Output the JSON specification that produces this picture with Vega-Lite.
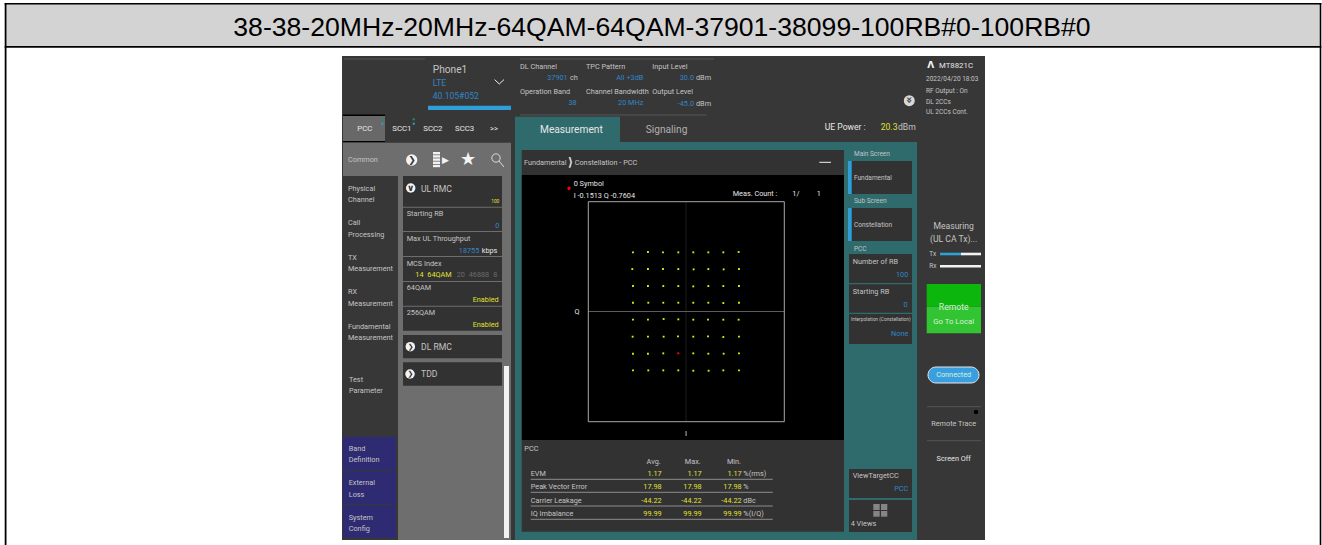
{
"$schema":"https://vega.github.io/schema/vega-lite/v6.json",
"width":1322,"height":545,"padding":0,"autosize":{"type":"none"},"background":"white",
"view":{"stroke":null},
"config":{"view":{"stroke":null}},
"datasets":{
"rects":[
{"part":"line","x":4.7,"y":3,"x2":1321.3,"y2":4.7},
{"part":"bar","x":6.5,"y":4.7,"x2":1319.7,"y2":46},
{"part":"line","x":4.7,"y":46,"x2":1321.3,"y2":47.7},
{"part":"line","x":4.7,"y":3,"x2":6.5,"y2":545},
{"part":"line","x":1319.7,"y":3,"x2":1321.3,"y2":545},
{"part":"panel","x":342,"y":56,"x2":985,"y2":540},
{"part":"accent","x":428,"y":105.7,"x2":511,"y2":110},
{"part":"line","x":343,"y":114.5,"x2":385,"y2":116},
{"part":"tab","x":343,"y":116,"x2":385,"y2":141},
{"part":"line","x":343,"y":141,"x2":385,"y2":142},
{"part":"statusgreen","x":381.3,"y":118,"x2":383.3,"y2":120},
{"part":"accent","x":381.3,"y":122.7,"x2":383.3,"y2":124.7},
{"part":"statusgreen","x":412.7,"y":118.3,"x2":414.7,"y2":120.3},
{"part":"accent","x":412.7,"y":122.7,"x2":414.7,"y2":124.7},
{"part":"gray","x":343,"y":142.7,"x2":511,"y2":176},
{"part":"gray","x":398,"y":176,"x2":511,"y2":540},
{"part":"card","x":403,"y":176,"x2":502,"y2":206.7},
{"part":"card","x":403,"y":207.7,"x2":502,"y2":231},
{"part":"card","x":403,"y":232,"x2":502,"y2":256},
{"part":"card","x":403,"y":257,"x2":502,"y2":281},
{"part":"card","x":403,"y":282,"x2":502,"y2":305.7},
{"part":"card","x":403,"y":306.7,"x2":502,"y2":330.7},
{"part":"card","x":403,"y":335,"x2":502,"y2":358.3},
{"part":"card","x":403,"y":362.3,"x2":502,"y2":385.7},
{"part":"white","x":504,"y":366,"x2":509,"y2":538},
{"part":"navy","x":342.7,"y":436.7,"x2":396,"y2":470},
{"part":"navy","x":342.7,"y":471,"x2":396,"y2":504},
{"part":"navy","x":342.7,"y":505,"x2":396,"y2":538},
{"part":"teal","x":515,"y":116.7,"x2":620,"y2":142},
{"part":"teal","x":515,"y":142,"x2":917,"y2":540},
{"part":"card","x":521.7,"y":150,"x2":844,"y2":175},
{"part":"black","x":521.7,"y":175,"x2":844,"y2":440},
{"part":"card","x":521.7,"y":440,"x2":844,"y2":531.7},
{"part":"card","x":848,"y":161,"x2":912,"y2":194},
{"part":"accent","x":848,"y":161,"x2":851.7,"y2":194},
{"part":"card","x":848,"y":208,"x2":912,"y2":241},
{"part":"accent","x":848,"y":208,"x2":851.7,"y2":241},
{"part":"card","x":849,"y":254,"x2":912,"y2":283},
{"part":"card","x":849,"y":284.3,"x2":912,"y2":312.7},
{"part":"card","x":849,"y":314,"x2":912,"y2":344},
{"part":"card","x":849,"y":469,"x2":912,"y2":498},
{"part":"card","x":849,"y":500,"x2":912,"y2":532},
{"part":"icon","x":873.3,"y":504,"x2":879.7,"y2":510},
{"part":"icon","x":881,"y":504,"x2":887.3,"y2":510},
{"part":"icon","x":873.3,"y":511,"x2":879.7,"y2":516.7},
{"part":"icon","x":881,"y":511,"x2":887.3,"y2":516.7},
{"part":"white","x":433,"y":152,"x2":440,"y2":154.4},
{"part":"white","x":433,"y":155.2,"x2":440,"y2":157.6},
{"part":"white","x":433,"y":158.4,"x2":440,"y2":160.8},
{"part":"white","x":433,"y":161.6,"x2":440,"y2":164},
{"part":"white","x":433,"y":164.8,"x2":440,"y2":167.2},
{"part":"green1","x":926.7,"y":284,"x2":981,"y2":306.7},
{"part":"green2","x":926.7,"y":306.7,"x2":981,"y2":333.3},
{"part":"accent","x":940,"y":252.7,"x2":961,"y2":255.3},
{"part":"white","x":961,"y":252.7,"x2":981,"y2":255.3},
{"part":"white","x":940,"y":265,"x2":981,"y2":267.6}
],
"outlines":[
{"x":588.3,"y":201.7,"x2":784.3,"y2":421.7}
],
"pills":[
{"x":928,"y":367,"x2":979,"y2":383}
],
"rules":[
{"part":"faint","x":344,"y":59,"x2":425,"y2":59},
{"part":"faint","x":520,"y":59,"x2":714,"y2":59},
{"part":"faint","x":520,"y":115,"x2":707,"y2":115},
{"part":"table","x":530.7,"y":479.3,"x2":772.7,"y2":479.3},
{"part":"table","x":530.7,"y":492.3,"x2":772.7,"y2":492.3},
{"part":"table","x":530.7,"y":506,"x2":772.7,"y2":506},
{"part":"table","x":530.7,"y":519.3,"x2":772.7,"y2":519.3},
{"part":"bright","x":819.3,"y":162.3,"x2":831,"y2":162.3},
{"part":"faint","x":927,"y":406.7,"x2":981,"y2":406.7},
{"part":"faint","x":927,"y":440.7,"x2":981,"y2":440.7},
{"part":"lens","x":499,"y":161,"x2":504,"y2":167},
{"part":"bright","x":494.6,"y":79.6,"x2":499.3,"y2":84},
{"part":"bright","x":499.3,"y":84,"x2":504,"y2":79.6}
],
"crossV":[{"x":686,"y":201.7,"x2":686,"y2":421.7}],
"crossH":[{"x":588.3,"y":311.5,"x2":784.3,"y2":311.5}],
"dots":[
{"part":"button","x":411.7,"y":160},
{"part":"cardbutton","x":410.7,"y":188},
{"part":"cardbutton","x":410.3,"y":346.7},
{"part":"cardbutton","x":410,"y":374},
{"part":"more","x":909.3,"y":100.7},
{"part":"cursor","x":569,"y":188.3},
{"part":"led","x":976,"y":412}
],
"lens":[{"x":496,"y":158}],
"symbols":[
{"state":"normal","i":-1.065,"q":1.062},{"state":"normal","i":-0.763,"q":1.068},{"state":"normal","i":-0.46,"q":1.062},{"state":"normal","i":-0.151,"q":1.062},{"state":"normal","i":0.151,"q":1.062},{"state":"normal","i":0.454,"q":1.062},{"state":"normal","i":0.756,"q":1.062},{"state":"normal","i":1.065,"q":1.068},
{"state":"normal","i":-1.079,"q":0.761},{"state":"normal","i":-0.763,"q":0.761},{"state":"normal","i":-0.46,"q":0.761},{"state":"normal","i":-0.151,"q":0.761},{"state":"normal","i":0.158,"q":0.755},{"state":"normal","i":0.454,"q":0.761},{"state":"normal","i":0.763,"q":0.755},{"state":"normal","i":1.072,"q":0.761},
{"state":"normal","i":-1.065,"q":0.454},{"state":"normal","i":-0.763,"q":0.454},{"state":"normal","i":-0.454,"q":0.454},{"state":"normal","i":-0.151,"q":0.454},{"state":"normal","i":0.151,"q":0.448},{"state":"normal","i":0.454,"q":0.454},{"state":"normal","i":0.756,"q":0.454},{"state":"normal","i":1.072,"q":0.454},
{"state":"normal","i":-1.065,"q":0.153},{"state":"normal","i":-0.756,"q":0.153},{"state":"normal","i":-0.454,"q":0.153},{"state":"normal","i":-0.151,"q":0.153},{"state":"normal","i":0.151,"q":0.153},{"state":"normal","i":0.454,"q":0.153},{"state":"normal","i":0.756,"q":0.147},{"state":"normal","i":1.072,"q":0.153},
{"state":"normal","i":-1.065,"q":-0.153},{"state":"normal","i":-0.763,"q":-0.153},{"state":"normal","i":-0.447,"q":-0.141},{"state":"normal","i":-0.151,"q":-0.147},{"state":"normal","i":0.151,"q":-0.153},{"state":"normal","i":0.447,"q":-0.153},{"state":"normal","i":0.756,"q":-0.153},{"state":"normal","i":1.065,"q":-0.153},
{"state":"normal","i":-1.072,"q":-0.46},{"state":"normal","i":-0.763,"q":-0.46},{"state":"normal","i":-0.447,"q":-0.46},{"state":"normal","i":-0.158,"q":-0.454},{"state":"normal","i":0.151,"q":-0.46},{"state":"normal","i":0.447,"q":-0.454},{"state":"normal","i":0.756,"q":-0.466},{"state":"normal","i":1.072,"q":-0.46},
{"state":"normal","i":-1.065,"q":-0.767},{"state":"normal","i":-0.763,"q":-0.767},{"state":"normal","i":-0.454,"q":-0.761},{"state":"selected","i":-0.1513,"q":-0.7604},{"state":"normal","i":0.151,"q":-0.761},{"state":"normal","i":0.454,"q":-0.767},{"state":"normal","i":0.763,"q":-0.767},{"state":"normal","i":1.072,"q":-0.761},
{"state":"normal","i":-1.065,"q":-1.068},{"state":"normal","i":-0.756,"q":-1.068},{"state":"normal","i":-0.454,"q":-1.068},{"state":"normal","i":-0.151,"q":-1.068},{"state":"normal","i":0.151,"q":-1.074},{"state":"normal","i":0.46,"q":-1.074},{"state":"normal","i":0.756,"q":-1.068},{"state":"normal","i":1.072,"q":-1.068}
],
"glyphs":[
{"text":"❯","tone":"dark","level":"s","x":412,"y":160},
{"text":"★","tone":"white","level":"l","x":468,"y":160},
{"text":"▶","tone":"white","level":"s","x":445.5,"y":160},
{"text":"∨","tone":"dark","level":"s","x":410.7,"y":188},
{"text":"❯","tone":"dark","level":"xs","x":410.8,"y":346.7},
{"text":"❯","tone":"dark","level":"xs","x":410.5,"y":374},
{"text":"⟩","tone":"label","level":"m","x":570.5,"y":162},
{"text":"Λ","tone":"white","level":"s","x":930.7,"y":65}
],
"turned":[{"text":"»","x":909.3,"y":100}],
"textLeft":[
{"text":"Phone1","tone":"label","level":"big","x":432.7,"y":70},
{"text":"LTE","tone":"blue","level":"mid","x":432.7,"y":83.3},
{"text":"40.105#052","tone":"blue","level":"mid","x":432.7,"y":96.3},
{"text":"DL Channel","tone":"label","level":"small","x":520,"y":66.7},
{"text":"ch","tone":"label","level":"small","x":570,"y":78.3},
{"text":"TPC Pattern","tone":"label","level":"small","x":586,"y":66.7},
{"text":"Operation Band","tone":"label","level":"small","x":520,"y":92.3},
{"text":"Channel Bandwidth","tone":"label","level":"small","x":586,"y":92.3},
{"text":"Input Level","tone":"label","level":"small","x":652.3,"y":66.7},
{"text":"Output Level","tone":"label","level":"small","x":652.3,"y":92.3},
{"text":"dBm","tone":"label","level":"small","x":696,"y":78.3},
{"text":"dBm","tone":"label","level":"small","x":696,"y":104},
{"text":"UE Power :","tone":"white","level":"mid","x":824.7,"y":126.7},
{"text":"20.3","tone":"yellow","level":"mid","x":880.7,"y":126.7},
{"text":"dBm","tone":"label","level":"mid","x":898,"y":126.7},
{"text":"Measurement","tone":"white","level":"big","x":540,"y":130},
{"text":"Signaling","tone":"dim","level":"big","x":645.7,"y":130},
{"text":"PCC","tone":"white","level":"body","x":357.3,"y":129},
{"text":"SCC1","tone":"white","level":"body","x":392.3,"y":129},
{"text":"SCC2","tone":"white","level":"body","x":423.3,"y":129},
{"text":"SCC3","tone":"white","level":"body","x":455,"y":129},
{"text":">>","tone":"white","level":"body","x":490,"y":129},
{"text":"Common","tone":"label","level":"small","x":348,"y":160},
{"text":"Physical","tone":"label","level":"small","x":348,"y":189},
{"text":"Channel","tone":"label","level":"small","x":348,"y":200.3},
{"text":"Call","tone":"label","level":"small","x":348,"y":223.3},
{"text":"Processing","tone":"label","level":"small","x":348,"y":235},
{"text":"TX","tone":"label","level":"small","x":348,"y":257.7},
{"text":"Measurement","tone":"label","level":"small","x":348,"y":269.3},
{"text":"RX","tone":"label","level":"small","x":348,"y":291.7},
{"text":"Measurement","tone":"label","level":"small","x":348,"y":303.7},
{"text":"Fundamental","tone":"label","level":"small","x":348,"y":326.7},
{"text":"Measurement","tone":"label","level":"small","x":348,"y":338},
{"text":"Test","tone":"label","level":"small","x":349,"y":379.7},
{"text":"Parameter","tone":"label","level":"small","x":349,"y":391.3},
{"text":"Band","tone":"label","level":"small","x":348.7,"y":448.7},
{"text":"Definition","tone":"label","level":"small","x":348.7,"y":460},
{"text":"External","tone":"label","level":"small","x":348.7,"y":483},
{"text":"Loss","tone":"label","level":"small","x":348.7,"y":494.7},
{"text":"System","tone":"label","level":"small","x":348.7,"y":517.7},
{"text":"Config","tone":"label","level":"small","x":348.7,"y":528.7},
{"text":"UL RMC","tone":"label","level":"mid","x":421,"y":189},
{"text":"Starting RB","tone":"label","level":"small","x":406.7,"y":214.3},
{"text":"Max UL Throughput","tone":"label","level":"small","x":406.7,"y":239},
{"text":"kbps","tone":"white","level":"small","x":481.7,"y":250.7},
{"text":"MCS Index","tone":"label","level":"small","x":406.7,"y":263.7},
{"text":"14","tone":"yellow","level":"small","x":415.3,"y":275.3},
{"text":"64QAM","tone":"yellow","level":"small","x":427.3,"y":275.3},
{"text":"20","tone":"faded","level":"small","x":456.7,"y":275.3},
{"text":"46888","tone":"faded","level":"small","x":468.7,"y":275.3},
{"text":"8","tone":"faded","level":"small","x":493.3,"y":275.3},
{"text":"64QAM","tone":"label","level":"small","x":406.7,"y":288.3},
{"text":"256QAM","tone":"label","level":"small","x":406.7,"y":313.3},
{"text":"DL RMC","tone":"label","level":"mid","x":421,"y":346.7},
{"text":"TDD","tone":"label","level":"mid","x":421,"y":374},
{"text":"Fundamental","tone":"label","level":"small","x":524,"y":163},
{"text":"Constellation - PCC","tone":"label","level":"small","x":574.7,"y":163},
{"text":"0 Symbol","tone":"white","level":"small","x":573.7,"y":183.7},
{"text":"I -0.1513 Q -0.7604","tone":"white","level":"small","x":573.7,"y":195.7},
{"text":"Meas. Count :","tone":"white","level":"small","x":732.7,"y":194.3},
{"text":"1/","tone":"white","level":"small","x":792.3,"y":194.3},
{"text":"1","tone":"white","level":"small","x":816.7,"y":194.3},
{"text":"PCC","tone":"label","level":"small","x":524.3,"y":449.3},
{"text":"EVM","tone":"label","level":"small","x":530.7,"y":474.3},
{"text":"Peak Vector Error","tone":"label","level":"small","x":530.7,"y":487.3},
{"text":"Carrier Leakage","tone":"label","level":"small","x":530.7,"y":500.7},
{"text":"IQ Imbalance","tone":"label","level":"small","x":530.7,"y":513.7},
{"text":"%(rms)","tone":"label","level":"small","x":743.3,"y":474.3},
{"text":"%","tone":"label","level":"small","x":743.3,"y":487.3},
{"text":"dBc","tone":"label","level":"small","x":743.3,"y":500.7},
{"text":"%(I/Q)","tone":"label","level":"small","x":743.3,"y":513.7},
{"text":"Main Screen","tone":"label","level":"tiny","x":854,"y":154.3},
{"text":"Fundamental","tone":"label","level":"tiny","x":854,"y":177.7},
{"text":"Sub Screen","tone":"label","level":"tiny","x":854,"y":201.3},
{"text":"Constellation","tone":"label","level":"tiny","x":854,"y":225},
{"text":"PCC","tone":"label","level":"tiny","x":854,"y":249},
{"text":"Number of RB","tone":"label","level":"small","x":852.7,"y":262},
{"text":"Starting RB","tone":"label","level":"small","x":852.7,"y":292.3},
{"text":"Interpolation (Constellation)","tone":"label","level":"micro","x":851,"y":319.7},
{"text":"ViewTargetCC","tone":"label","level":"small","x":852.7,"y":476},
{"text":"4 Views","tone":"label","level":"small","x":850.7,"y":524.3},
{"text":"MT8821C","tone":"white","level":"body","x":939,"y":66},
{"text":"2022/04/20 18:03","tone":"label","level":"tiny","x":926,"y":79.3},
{"text":"RF Output : On","tone":"label","level":"tiny","x":926,"y":91.3},
{"text":"DL 2CCs","tone":"label","level":"tiny","x":926,"y":102},
{"text":"UL 2CCs Cont.","tone":"label","level":"tiny","x":926,"y":112.3},
{"text":"Tx","tone":"label","level":"tiny","x":929.3,"y":253.7},
{"text":"Rx","tone":"label","level":"tiny","x":929.3,"y":266}
],
"textRight":[
{"text":"37901","tone":"blue","level":"small","x":567.7,"y":78.3},
{"text":"All +3dB","tone":"blue","level":"small","x":643.3,"y":78.3},
{"text":"38","tone":"blue","level":"small","x":576.7,"y":103.3},
{"text":"20 MHz","tone":"blue","level":"small","x":643.3,"y":103.3},
{"text":"30.0","tone":"blue","level":"small","x":694,"y":78.3},
{"text":"-45.0","tone":"blue","level":"small","x":694,"y":104},
{"text":"100","tone":"yellow","level":"micro","x":499.3,"y":202},
{"text":"0","tone":"blue","level":"small","x":499.3,"y":225.7},
{"text":"18755","tone":"blue","level":"small","x":479.3,"y":250.7},
{"text":"Enabled","tone":"yellow","level":"small","x":498.7,"y":300},
{"text":"Enabled","tone":"yellow","level":"small","x":498.7,"y":324.7},
{"text":"Avg.","tone":"label","level":"small","x":660.7,"y":461.7},
{"text":"Max.","tone":"label","level":"small","x":700.7,"y":461.7},
{"text":"Min.","tone":"label","level":"small","x":741,"y":461.7},
{"text":"1.17","tone":"yellow","level":"small","x":661.7,"y":474.3},
{"text":"1.17","tone":"yellow","level":"small","x":701.7,"y":474.3},
{"text":"1.17","tone":"yellow","level":"small","x":741.7,"y":474.3},
{"text":"17.98","tone":"yellow","level":"small","x":661.7,"y":487.3},
{"text":"17.98","tone":"yellow","level":"small","x":701.7,"y":487.3},
{"text":"17.98","tone":"yellow","level":"small","x":741.7,"y":487.3},
{"text":"-44.22","tone":"yellow","level":"small","x":661.7,"y":500.7},
{"text":"-44.22","tone":"yellow","level":"small","x":701.7,"y":500.7},
{"text":"-44.22","tone":"yellow","level":"small","x":741.7,"y":500.7},
{"text":"99.99","tone":"yellow","level":"small","x":661.7,"y":513.7},
{"text":"99.99","tone":"yellow","level":"small","x":701.7,"y":513.7},
{"text":"99.99","tone":"yellow","level":"small","x":741.7,"y":513.7},
{"text":"100","tone":"blue","level":"small","x":908.3,"y":275.3},
{"text":"0","tone":"blue","level":"small","x":907.7,"y":305.3},
{"text":"None","tone":"blue","level":"small","x":908.3,"y":334},
{"text":"PCC","tone":"blue","level":"small","x":908.3,"y":489.3}
],
"textCenter":[
{"text":"Q","tone":"white","level":"small","x":577,"y":311.7},
{"text":"I","tone":"white","level":"small","x":686,"y":434.3},
{"text":"Measuring","tone":"label","level":"mid","x":953.7,"y":226.3},
{"text":"(UL CA Tx)...","tone":"label","level":"mid","x":953.7,"y":239},
{"text":"Remote","tone":"pale","level":"mid","x":953.7,"y":307.3},
{"text":"Go To Local","tone":"pale","level":"body","x":953.7,"y":322.3},
{"text":"Connected","tone":"pale","level":"small","x":953.7,"y":375},
{"text":"Remote Trace","tone":"label","level":"small","x":953.7,"y":424},
{"text":"Screen Off","tone":"white","level":"small","x":953.7,"y":458.7}
],
"heading":[{"text":"38-38-20MHz-20MHz-64QAM-64QAM-37901-38099-100RB#0-100RB#0","x":662,"y":28}]
},
"encoding":{
"x":{"field":"x","type":"quantitative","scale":{"domain":[0,1322]},"axis":null},
"y":{"field":"y","type":"quantitative","scale":{"domain":[545,0]},"axis":null}
},
"layer":[
{"data":{"name":"rects"},"mark":{"type":"rect"},
 "encoding":{"x2":{"field":"x2"},"y2":{"field":"y2"},
 "color":{"field":"part","type":"nominal","legend":null,"scale":{
  "domain":["line","bar","panel","tab","gray","card","white","navy","teal","black","accent","statusgreen","icon","green1","green2"],
  "range":["#000000","#d3d3d3","#383737","#686868","#6e6e6e","#333232","#f2f2f2","#2f2b72","#2f6b6d","#000000","#2e9fd8","#1a9a50","#858585","#0cb60c","#33c433"]}}}},
{"data":{"name":"crossV"},"mark":{"type":"rule","stroke":"#3a3a3a","strokeWidth":1,"strokeDash":[1,1]},
 "encoding":{"x2":{"field":"x2"},"y2":{"field":"y2"}}},
{"data":{"name":"crossH"},"mark":{"type":"rule","stroke":"#5c5c5c","strokeWidth":1},
 "encoding":{"x2":{"field":"x2"},"y2":{"field":"y2"}}},
{"data":{"name":"outlines"},"mark":{"type":"rect","fillOpacity":0,"stroke":"#a8a8a8","strokeWidth":1},
 "encoding":{"x2":{"field":"x2"},"y2":{"field":"y2"}}},
{"data":{"name":"pills"},"mark":{"type":"rect","fill":"#3a9fe0","stroke":"#e8e8e8","strokeWidth":1,"cornerRadius":8},
 "encoding":{"x2":{"field":"x2"},"y2":{"field":"y2"}}},
{"data":{"name":"rules"},"mark":{"type":"rule","strokeWidth":1},
 "encoding":{"x2":{"field":"x2"},"y2":{"field":"y2"},
 "color":{"field":"part","type":"nominal","legend":null,"scale":{"domain":["faint","table","bright","lens"],"range":["#565656","#8c8c8c","#f0f0f0","#dddddd"]}}}},
{"data":{"name":"dots"},"mark":{"type":"point","filled":true,"opacity":1,"shape":"circle"},
 "encoding":{
 "size":{"field":"part","type":"nominal","legend":null,"scale":{"type":"ordinal","domain":["button","cardbutton","more","cursor","led"],"range":[127,90,120,12,20]}},
 "color":{"field":"part","type":"nominal","legend":null,"scale":{"domain":["button","cardbutton","more","cursor","led"],"range":["#f4f4f4","#f4f4f4","#d8d8d8","#ff0000","#000000"]}}}},
{"data":{"name":"lens"},"mark":{"type":"point","filled":false,"shape":"circle","size":70,"stroke":"#dddddd","strokeWidth":1,"opacity":1},"encoding":{}},
{"data":{"name":"symbols"},"mark":{"type":"point","filled":true,"opacity":1,"shape":"square","size":3.5},
 "encoding":{
 "x":{"field":"i","type":"quantitative","scale":{"domain":[-13.827,12.827]},"axis":null},
 "y":{"field":"q","type":"quantitative","scale":{"domain":[-4.22,5.617]},"axis":null},
 "color":{"field":"state","type":"nominal","legend":null,"scale":{"domain":["normal","selected"],"range":["#e8e800","#ff1010"]}}}},
{"data":{"name":"glyphs"},"mark":{"type":"text","font":"DejaVu Sans","align":"center","baseline":"middle","fontWeight":"bold"},
 "encoding":{"text":{"field":"text"},
 "size":{"field":"level","type":"nominal","legend":null,"scale":{"type":"ordinal","domain":["xs","s","m","l"],"range":[7,9,12,18]}},
 "color":{"field":"tone","type":"nominal","legend":null,"scale":{"domain":["dark","white","label"],"range":["#333333","#f4f4f4","#dddddd"]}}}},
{"data":{"name":"turned"},"mark":{"type":"text","font":"DejaVu Sans","align":"center","baseline":"middle","fontWeight":"bold","fontSize":11,"angle":90,"color":"#444444"},
 "encoding":{"text":{"field":"text"}}},
{"data":{"name":"textLeft"},"mark":{"type":"text","font":"Roboto","align":"left","baseline":"middle"},
 "encoding":{"text":{"field":"text"},
 "size":{"field":"level","type":"nominal","legend":null,"scale":{"type":"ordinal","domain":["micro","tiny","small","body","mid","big"],"range":[4.8,6.5,7.3,7.8,8.6,10.2]}},
 "color":{"field":"tone","type":"nominal","legend":null,"scale":{"domain":["label","white","blue","yellow","dim","faded","pale"],"range":["#c4c4c4","#e6e6e6","#2f86c8","#e0e030","#b0b0b0","#6a6a6a","#d8f0d8"]}}}},
{"data":{"name":"textRight"},"mark":{"type":"text","font":"Roboto","align":"right","baseline":"middle"},
 "encoding":{"text":{"field":"text"},
 "size":{"field":"level","type":"nominal","legend":null,"scale":{"type":"ordinal","domain":["micro","tiny","small","body","mid","big"],"range":[4.8,6.5,7.3,7.8,8.6,10.2]}},
 "color":{"field":"tone","type":"nominal","legend":null,"scale":{"domain":["label","white","blue","yellow","dim","faded","pale"],"range":["#c4c4c4","#e6e6e6","#2f86c8","#e0e030","#b0b0b0","#6a6a6a","#d8f0d8"]}}}},
{"data":{"name":"textCenter"},"mark":{"type":"text","font":"Roboto","align":"center","baseline":"middle"},
 "encoding":{"text":{"field":"text"},
 "size":{"field":"level","type":"nominal","legend":null,"scale":{"type":"ordinal","domain":["micro","tiny","small","body","mid","big"],"range":[4.8,6.5,7.3,7.8,8.6,10.2]}},
 "color":{"field":"tone","type":"nominal","legend":null,"scale":{"domain":["label","white","blue","yellow","dim","faded","pale"],"range":["#c4c4c4","#e6e6e6","#2f86c8","#e0e030","#b0b0b0","#6a6a6a","#d8f0d8"]}}}},
{"data":{"name":"heading"},"mark":{"type":"text","font":"Liberation Sans","fontSize":26.6,"align":"center","baseline":"middle","color":"#000000"},
 "encoding":{"text":{"field":"text"}}}
],
"resolve":{"scale":{"x":"independent","y":"independent","color":"independent","size":"independent"}}
}
